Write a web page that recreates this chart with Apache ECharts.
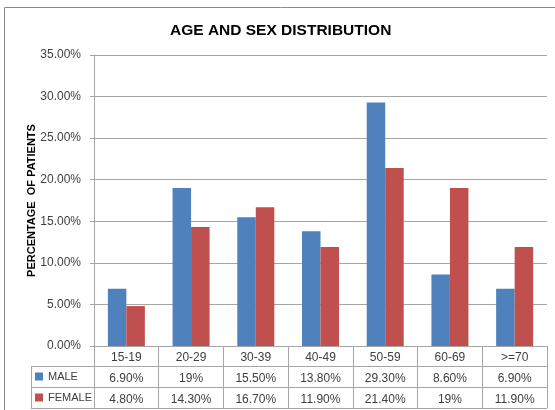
<!DOCTYPE html>
<html>
<head>
<meta charset="utf-8">
<script src="https://cdn.jsdelivr.net/npm/echarts@6/dist/echarts.min.js"></script>
<style>
html,body{margin:0;padding:0;background:#fff;}
#chart{width:555px;height:410px;}
</style>
</head>
<body>
<div id="chart"></div>
<script>
var categories = ['15-19', '20-29', '30-39', '40-49', '50-59', '60-69', '>=70'];
var seriesNames = ['MALE', 'FEMALE'];
var maleValues = [6.9, 19, 15.5, 13.8, 29.3, 8.6, 6.9];
var femaleValues = [4.8, 14.3, 16.7, 11.9, 21.4, 19, 11.9];
var yTicks = [0, 5, 10, 15, 20, 25, 30, 35];

var titleText = 'AGE AND SEX DISTRIBUTION';
var yAxisName = 'PERCENTAGE  OF PATIENTS';

function tableFmt(v) {
  return (Math.round(v) === v) ? (v + '%') : (v.toFixed(2) + '%');
}

var W = 555, H = 410;
var gLeft = 94, gRight = 8, gTop = 55, gBottom = 64;
var plotRight = W - gRight;
var axisY = H - gBottom;
var rowH = 21;
var legLeft = 31;
var lineColor = '#a6a6a6';
var font = 'Liberation Sans, Arial, sans-serif';

var chart = echarts.init(document.getElementById('chart'), null, {renderer: 'canvas'});

function hline(y) {
  return {type: 'line', silent: true, shape: {x1: legLeft, y1: y + 0.5, x2: plotRight, y2: y + 0.5}, style: {stroke: lineColor, lineWidth: 1}};
}

var option = {
  animation: false,
  backgroundColor: '#fff',
  title: {
    text: titleText,
    left: 165,
    top: 18,
    textStyle: {fontFamily: font, fontSize: 15.5, fontWeight: 'bold', color: '#000'}
  },
  legend: {
    data: seriesNames,
    orient: 'vertical',
    left: legLeft + 4,
    top: axisY + 23.5,
    padding: 0,
    itemWidth: 8,
    itemHeight: 8,
    itemGap: 7,
    icon: 'rect',
    textStyle: {fontFamily: font, fontSize: 11, color: '#404040', lineHeight: 14}
  },
  grid: {left: gLeft, right: gRight, top: gTop, bottom: gBottom, containLabel: false},
  xAxis: {
    type: 'category',
    data: categories,
    axisLine: {show: true, lineStyle: {color: lineColor, width: 1}},
    axisTick: {show: true, length: 62, interval: 0, lineStyle: {color: lineColor}},
    axisLabel: {
      interval: 0,
      margin: 1,
      fontFamily: font,
      fontSize: 12,
      lineHeight: rowH,
      color: '#404040',
      formatter: function (v, i) {
        return v + '\n' + tableFmt(maleValues[i]) + '\n' + tableFmt(femaleValues[i]);
      }
    }
  },
  yAxis: {
    type: 'value',
    min: yTicks[0],
    max: yTicks[yTicks.length - 1],
    interval: yTicks[1] - yTicks[0],
    name: yAxisName,
    nameLocation: 'middle',
    nameRotate: 90,
    nameGap: 57,
    nameMoveOverlap: false,
    nameTextStyle: {fontFamily: font, fontSize: 11, fontWeight: 'bold', color: '#000'},
    axisLine: {show: true, lineStyle: {color: lineColor}},
    axisTick: {show: true, length: 4, lineStyle: {color: lineColor}},
    splitLine: {show: true, lineStyle: {color: lineColor, width: 1}},
    axisLabel: {
      margin: 13,
      fontFamily: font,
      fontSize: 12,
      color: '#404040',
      formatter: function (v) { return v.toFixed(2) + '%'; }
    }
  },
  series: [
    {
      name: seriesNames[0],
      type: 'bar',
      data: maleValues,
      barWidth: 18.5,
      barGap: '0%',
      itemStyle: {color: '#4F81BD'}
    },
    {
      name: seriesNames[1],
      type: 'bar',
      data: femaleValues,
      barWidth: 18.5,
      barGap: '0%',
      itemStyle: {color: '#C0504D'}
    }
  ],
  graphic: [
    {type: 'rect', silent: true, shape: {x: 4.5, y: 7.5, width: 700, height: 600}, style: {fill: null, stroke: '#8a8a8a', lineWidth: 1}},
    hline(366),
    hline(387),
    hline(408),
    {type: 'line', silent: true, shape: {x1: legLeft + 0.5, y1: 366, x2: legLeft + 0.5, y2: 409}, style: {stroke: lineColor, lineWidth: 1}}
  ]
};
chart.setOption(option);
</script>
</body>
</html>
